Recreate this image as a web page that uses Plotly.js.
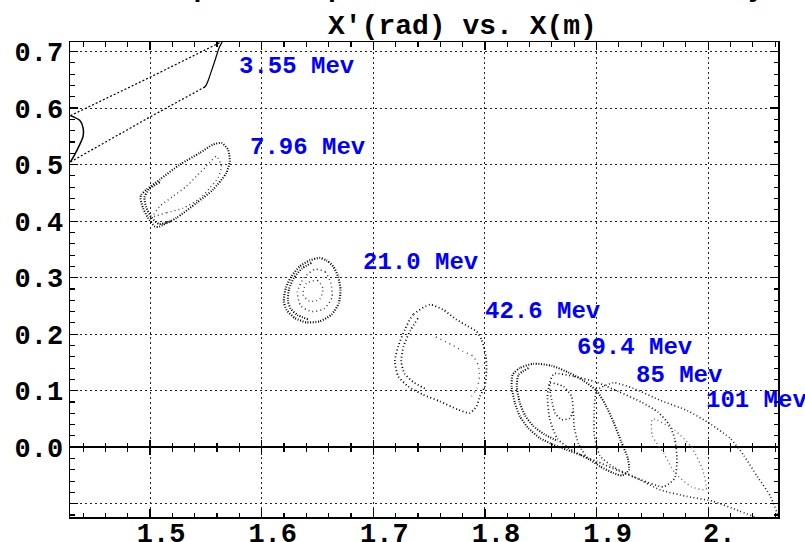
<!DOCTYPE html>
<html><head><meta charset="utf-8">
<script src="https://cdn.plot.ly/plotly-3.0.1.min.js"></script>
<style>html,body{margin:0;padding:0;background:#fff}#chart{width:805px;height:542px}</style>
</head><body><div id="chart"></div>
<script>
// ---------- data: X (m) vs X' (rad) ----------
// 3.55 MeV
const e355UpperX = [1.4287, 1.5000, 1.5649];
const e355UpperY = [0.5867, 0.6546, 0.7182];
const e355LowerX = [1.4287, 1.5000, 1.5491];
const e355LowerY = [0.5048, 0.5844, 0.6375];
const e355LeftX  = [1.4287, 1.4370, 1.4400, 1.4400, 1.4370, 1.4325, 1.4287];
const e355LeftY  = [0.5867, 0.5784, 0.5649, 0.5501, 0.5354, 0.5177, 0.5048];
const e355RightX = [1.5480, 1.5491, 1.5505, 1.5529, 1.5559, 1.5589, 1.5618, 1.5649];
const e355RightY = [0.6360, 0.6375, 0.6416, 0.6534, 0.6711, 0.6888, 0.7065, 0.7182];
// 7.96 MeV
const e796OuterX = [1.4914, 1.4922, 1.4967, 1.5087, 1.5266, 1.5445, 1.5564, 1.5640, 1.5699, 1.5714, 1.5684, 1.5564, 1.5416, 1.5236, 1.5072, 1.5042, 1.4982, 1.4937, 1.4914];
const e796OuterY = [0.4410, 0.4469, 0.4558, 0.4735, 0.5000, 0.5207, 0.5354, 0.5384, 0.5265, 0.5058, 0.4853, 0.4558, 0.4322, 0.4057, 0.3897, 0.3908, 0.4056, 0.4233, 0.4410];
const e796BandX  = [1.5087, 1.4990, 1.4950, 1.4965, 1.5010, 1.5080, 1.5200];
const e796BandY  = [0.4690, 0.4560, 0.4420, 0.4250, 0.4070, 0.3950, 0.4010];
const e796InnerX = [1.5027, 1.5150, 1.5296, 1.5445, 1.5535, 1.5609, 1.5639, 1.5594, 1.5505, 1.5415, 1.5326, 1.5206, 1.5087, 1.5027];
const e796InnerY = [0.4085, 0.4150, 0.4232, 0.4400, 0.4587, 0.4764, 0.4970, 0.5147, 0.4970, 0.4793, 0.4616, 0.4439, 0.4262, 0.4085];
// 21.0 MeV
const e210OuterX = [1.6520, 1.6580, 1.6640, 1.6684, 1.6706, 1.6691, 1.6625, 1.6520, 1.6401, 1.6296, 1.6222, 1.6198, 1.6216, 1.6267, 1.6341, 1.6431, 1.6520];
const e210OuterY = [0.3349, 0.3306, 0.3200, 0.3023, 0.2788, 0.2552, 0.2345, 0.2227, 0.2209, 0.2287, 0.2434, 0.2581, 0.2818, 0.3023, 0.3200, 0.3306, 0.3349];
const e210BandX  = [1.6445, 1.6360, 1.6290, 1.6245, 1.6235, 1.6260, 1.6320, 1.6420];
const e210BandY  = [0.3260, 0.3160, 0.3000, 0.2800, 0.2590, 0.2450, 0.2340, 0.2260];
const e210InnerX = [1.6480, 1.6570, 1.6620, 1.6630, 1.6560, 1.6450, 1.6350, 1.6320, 1.6380, 1.6480];
const e210InnerY = [0.3150, 0.3100, 0.2900, 0.2650, 0.2450, 0.2400, 0.2500, 0.2750, 0.3000, 0.3150];
const e210CoreX  = [1.6400, 1.6500, 1.6550, 1.6520, 1.6430, 1.6370, 1.6400];
const e210CoreY  = [0.2900, 0.2950, 0.2800, 0.2620, 0.2580, 0.2700, 0.2900];
// 42.6 MeV
const e426OuterX = [1.7506, 1.7357, 1.7282, 1.7223, 1.7193, 1.7223, 1.7312, 1.7446, 1.7596, 1.7760, 1.7865, 1.7925, 1.7954, 1.7999, 1.8014, 1.8008, 1.7970, 1.7925, 1.7849, 1.7745, 1.7625, 1.7506];
const e426OuterY = [0.2522, 0.2345, 0.2080, 0.1784, 0.1519, 0.1253, 0.1076, 0.0929, 0.0811, 0.0664, 0.0605, 0.0722, 0.0899, 0.1076, 0.1372, 0.1607, 0.1903, 0.2050, 0.2138, 0.2257, 0.2434, 0.2522];
const e426BandX  = [1.7400, 1.7330, 1.7270, 1.7250, 1.7280, 1.7360, 1.7480];
const e426BandY  = [0.2280, 0.2060, 0.1780, 0.1520, 0.1300, 0.1150, 0.1020];
const e426InnerX = [1.7560, 1.7700, 1.7805, 1.7894, 1.7940, 1.7950, 1.7930, 1.7880];
const e426InnerY = [0.1950, 0.1815, 0.1696, 0.1608, 0.1450, 0.1250, 0.1050, 0.0900];
// 69.4 MeV
const e694OuterX = [1.8433, 1.8313, 1.8248, 1.8239, 1.8268, 1.8313, 1.8388, 1.8492, 1.8612, 1.8731, 1.8851, 1.8940, 1.9030, 1.9150, 1.9230, 1.9290, 1.9280, 1.9220, 1.9150, 1.9080, 1.9000, 1.8880, 1.8750, 1.8600, 1.8433];
const e694OuterY = [0.1478, 0.1401, 0.1283, 0.1077, 0.0782, 0.0546, 0.0339, 0.0162, 0.0044, -0.0044, -0.0133, -0.0221, -0.0339, -0.0457, -0.0500, -0.0400, -0.0200, 0.0100, 0.0450, 0.0750, 0.1000, 0.1180, 0.1320, 0.1440, 0.1478];
const e694BandX  = [1.8390, 1.8300, 1.8285, 1.8310, 1.8360, 1.8430, 1.8530, 1.8650];
const e694BandY  = [0.1400, 0.1280, 0.1080, 0.0800, 0.0560, 0.0380, 0.0230, 0.0110];
const e694InnerX = [1.8900, 1.8840, 1.8800, 1.8791, 1.8776, 1.8702, 1.8582, 1.8582, 1.8597, 1.8627, 1.8687, 1.8761, 1.8791];
const e694InnerY = [-0.0150, 0.0050, 0.0350, 0.0664, 0.0900, 0.1077, 0.1136, 0.1018, 0.0841, 0.0605, 0.0487, 0.0516, 0.0664];
// 85 MeV
const e850OuterX = [1.8620, 1.8800, 1.9000, 1.9200, 1.9400, 1.9550, 1.9650, 1.9700, 1.9720, 1.9700, 1.9600, 1.9400, 1.9200, 1.9000, 1.8800, 1.8650, 1.8580, 1.8560, 1.8580, 1.8620];
const e850OuterY = [0.1300, 0.1250, 0.1150, 0.0980, 0.0800, 0.0620, 0.0400, 0.0150, -0.0200, -0.0550, -0.0700, -0.0580, -0.0420, -0.0250, -0.0080, 0.0150, 0.0500, 0.0900, 0.1150, 0.1300];
// 101 MeV
const e101OuterX = [1.8980, 1.9000, 1.9150, 1.9330, 1.9570, 1.9810, 2.0020, 2.0200, 2.0320, 2.0440, 2.0560, 2.0620, 2.0450, 2.0280, 2.0045, 1.9806, 1.9567, 1.9328, 1.9150, 1.9030, 1.8980, 1.8980];
const e101OuterY = [0.0700, 0.1000, 0.1140, 0.1040, 0.0830, 0.0650, 0.0410, 0.0150, -0.0150, -0.0520, -0.0880, -0.1250, -0.1250, -0.1130, -0.0958, -0.0870, -0.0752, -0.0516, -0.0350, -0.0150, 0.0200, 0.0700];
const e101InnerX = [1.9500, 1.9700, 1.9850, 1.9950, 1.9980, 1.9850, 1.9700, 1.9600, 1.9500, 1.9500];
const e101InnerY = [0.0500, 0.0300, 0.0000, -0.0400, -0.0750, -0.0700, -0.0450, -0.0100, 0.0200, 0.0500];

// energy labels
const energyLabels = ['3.55 Mev', '7.96 Mev', '21.0 Mev', '42.6 Mev', '69.4 Mev', '85 Mev', '101 Mev'];
const labelX = [1.5777, 1.5875, 1.6886, 1.7986, 1.8804, 1.9332, 1.9966];
const labelY = [0.6735, 0.5296, 0.3265, 0.2403, 0.1756, 0.1266, 0.0828];

// axes
const xRange = [1.4283, 2.0625];
const yRange = [-0.1235, 0.717];
const xTickAlias = {'2.0': '2.'};
const yTickAlias = {'\u22120.1': '', '-0.1': ''};
const titleLine1 = 'Amplitude phase of each linac cavity';
const titleLine2 = 'X\u2032(rad) vs. X(m)';

// ---------- drawing ----------
const FONT = 'Liberation Mono, Courier New, monospace';
function ring(x, y, color, width, dash) {
  return {type: 'scatter', mode: 'lines', x: x, y: y, hoverinfo: 'skip', showlegend: false,
          line: {color: color, width: width, dash: dash, shape: 'spline', smoothing: 0.6}};
}
function seg(x, y, color, width, dash) {
  return {type: 'scatter', mode: 'lines', x: x, y: y, hoverinfo: 'skip', showlegend: false,
          line: {color: color, width: width, dash: dash}};
}
const DOT = '1px,1.6px';
const traces = [
  seg(e355UpperX, e355UpperY, '#000', 1.2, '2px,2px'),
  seg(e355LowerX, e355LowerY, '#000', 1.2, '2px,2px'),
  ring(e355LeftX, e355LeftY, '#000', 1.5, 'solid'),
  ring(e355RightX, e355RightY, '#000', 1.2, 'solid'),
  ring(e796OuterX, e796OuterY, '#000', 2, DOT),
  ring(e796BandX, e796BandY, '#000', 2, DOT),
  ring(e796InnerX, e796InnerY, '#444', 1.4, '1px,3px'),
  ring(e210OuterX, e210OuterY, '#000', 2.2, DOT),
  ring(e210BandX, e210BandY, '#000', 2, DOT),
  ring(e210InnerX, e210InnerY, '#333', 1.5, '1px,3px'),
  ring(e210CoreX, e210CoreY, '#444', 1.4, '1px,3px'),
  ring(e426OuterX, e426OuterY, '#000', 1.8, '1px,2.5px'),
  ring(e426BandX, e426BandY, '#000', 1.8, '1px,2.5px'),
  ring(e426InnerX, e426InnerY, '#444', 1.4, '1px,4px'),
  ring(e694OuterX, e694OuterY, '#000', 2, DOT),
  ring(e694BandX, e694BandY, '#000', 2, DOT),
  ring(e694InnerX, e694InnerY, '#111', 1.6, '1px,2.5px'),
  ring(e850OuterX, e850OuterY, '#111', 1.7, '1px,2.5px'),
  ring(e101OuterX, e101OuterY, '#222', 1.6, '1px,2.5px'),
  ring(e101InnerX, e101InnerY, '#666', 1.4, '1px,3px'),
  // carriers for the two overlay axes that draw the crossing ticks on the X' = 0 axis
  {type: 'scatter', mode: 'lines', x: [], y: [], xaxis: 'x2', yaxis: 'y', showlegend: false, hoverinfo: 'skip'},
  {type: 'scatter', mode: 'lines', x: [], y: [], xaxis: 'x3', yaxis: 'y', showlegend: false, hoverinfo: 'skip'}
];

const tickFont = {family: FONT, size: 27, color: '#000', weight: 'bold'};
const zeroPos = (0 - yRange[0]) / (yRange[1] - yRange[0]);
const annotations = energyLabels.map((t, i) => ({
  text: t, x: labelX[i], y: labelY[i], xref: 'x', yref: 'y', xanchor: 'left', yanchor: 'middle',
  showarrow: false, font: {family: FONT, size: 24, color: '#0000ff', weight: 'bold'}
}));
annotations.push({text: titleLine1, xref: 'paper', yref: 'paper', x: (462.5 - 70) / 708, y: 1 + 53.4 / 475,
  xanchor: 'center', yanchor: 'middle', showarrow: false, font: {family: FONT, size: 28, color: '#000', weight: 'bold'}});
annotations.push({text: titleLine2, xref: 'paper', yref: 'paper', x: (462.5 - 70) / 708, y: 1 + 15.4 / 475,
  xanchor: 'center', yanchor: 'middle', showarrow: false, font: {family: FONT, size: 28, color: '#000', weight: 'bold'}});

function minorTicks(side, len) {
  return {tickmode: 'linear', tick0: 0, dtick: 0.02, ticks: side, ticklen: len, tickwidth: 1.1, tickcolor: '#000', showgrid: false};
}
const layout = {
  width: 805, height: 542,
  margin: {l: 70, r: 27, t: 42, b: 25, pad: 0},
  paper_bgcolor: '#fff', plot_bgcolor: '#fff',
  showlegend: false,
  xaxis: {range: xRange, tickmode: 'linear', tick0: 0, dtick: 0.1, tickformat: '.1f', labelalias: xTickAlias,
    ticks: 'inside', ticklen: 8, tickwidth: 1.3, tickcolor: '#000',
    showline: true, linecolor: '#000', linewidth: 1.5, mirror: 'ticks',
    showgrid: true, gridcolor: '#222', gridwidth: 1, griddash: '2px,3px', zeroline: false,
    minor: minorTicks('inside', 4.5), tickfont: tickFont, ticklabelshift: 11, ticklabelstandoff: -9, fixedrange: true},
  yaxis: {range: yRange, tickmode: 'linear', tick0: 0, dtick: 0.1, tickformat: '.1f', labelalias: yTickAlias,
    ticks: 'inside', ticklen: 8, tickwidth: 1.3, tickcolor: '#000',
    showline: true, linecolor: '#000', linewidth: 1.5, mirror: 'ticks',
    showgrid: true, gridcolor: '#222', gridwidth: 1, griddash: '2px,3px',
    zeroline: true, zerolinecolor: '#000', zerolinewidth: 1.5,
    minor: minorTicks('inside', 4.5), tickfont: tickFont, fixedrange: true},
  xaxis2: {overlaying: 'x', anchor: 'free', position: zeroPos, side: 'bottom', range: xRange,
    tickmode: 'linear', tick0: 0, dtick: 0.1, ticks: 'inside', ticklen: 7, tickwidth: 1.3, tickcolor: '#000',
    showticklabels: false, showline: false, showgrid: false, zeroline: false,
    minor: minorTicks('inside', 4), fixedrange: true},
  xaxis3: {overlaying: 'x', anchor: 'free', position: zeroPos, side: 'bottom', range: xRange,
    tickmode: 'linear', tick0: 0, dtick: 0.1, ticks: 'outside', ticklen: 7, tickwidth: 1.3, tickcolor: '#000',
    showticklabels: false, showline: false, showgrid: false, zeroline: false,
    minor: minorTicks('outside', 4), fixedrange: true},
  annotations: annotations
};
Plotly.newPlot('chart', traces, layout, {displayModeBar: false, staticPlot: true});
</script></body></html>
